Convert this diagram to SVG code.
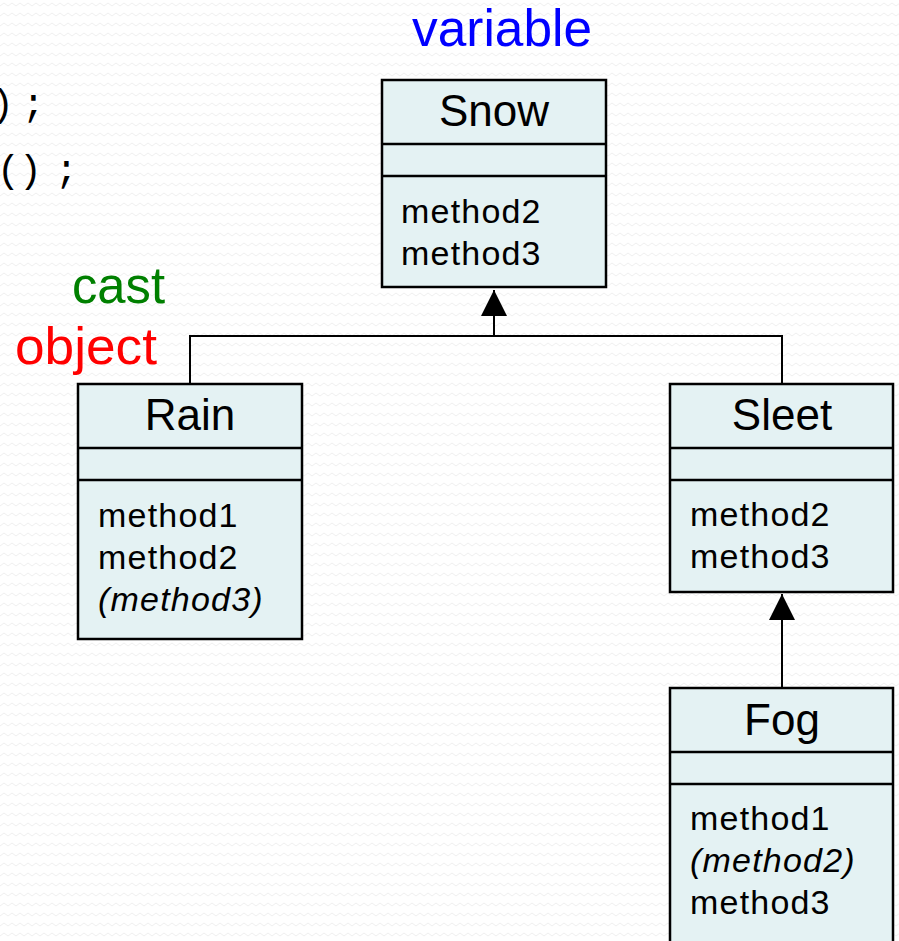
<svg xmlns="http://www.w3.org/2000/svg" width="899" height="941" viewBox="0 0 899 941">
  <style>
    .box { fill: #E4F2F3; stroke: #000; stroke-width: 2.5; }
    .div { stroke: #000; stroke-width: 2.5; }
    .title { font-family: "Liberation Sans", Arial, sans-serif; font-size: 44px; fill: #000; text-anchor: middle; }
    .m { font-family: "Liberation Sans", Arial, sans-serif; font-size: 34px; letter-spacing: 1.2px; fill: #000; }
    .it { font-style: italic; }
    .lbl { font-family: "Liberation Sans", Arial, sans-serif; font-size: 52px; }
    .code { font-family: "Liberation Mono", "Courier New", monospace; font-size: 38px; fill: #000; }
    .conn { stroke: #000; stroke-width: 2; fill: none; }
  </style>
  <defs>
    <pattern id="bg" width="8" height="10" patternUnits="userSpaceOnUse">
      <path d="M0 6 L4 3 L8 6" stroke="#efefef" stroke-width="1" fill="none"/>
    </pattern>
    <marker id="tri" markerWidth="26" markerHeight="26" viewBox="0 0 26 26" refX="26" refY="13" orient="auto" markerUnits="userSpaceOnUse">
      <path d="M0 0 L26 13 L0 26 Z" fill="#000"/>
    </marker>
  </defs>
  <rect width="899" height="941" fill="#fff"/>
  <rect width="899" height="941" fill="url(#bg)"/>

  <g id="code">
    <text class="code" x="-9 22" y="116">);</text>
    <text class="code" x="-3 19 55" y="182">();</text>
  </g>

  <g id="labels">
    <text class="lbl" x="412" y="46" fill="#0000FF" textLength="180" lengthAdjust="spacingAndGlyphs">variable</text>
    <text class="lbl" x="72" y="303" fill="#008000" textLength="93" lengthAdjust="spacingAndGlyphs">cast</text>
    <text class="lbl" x="15" y="364" fill="#FF0000" textLength="142" lengthAdjust="spacingAndGlyphs">object</text>
  </g>

  <g id="connectors">
    <path class="conn" d="M494 336 L494 290" marker-end="url(#tri)"/>
    <path class="conn" d="M190 384 L190 336 L782 336 L782 384"/>
    <path class="conn" d="M782 688 L782 594" marker-end="url(#tri)"/>
  </g>

  <g id="snow">
    <rect class="box" x="382" y="80" width="224" height="207"/>
    <line class="div" x1="382" y1="144" x2="606" y2="144"/>
    <line class="div" x1="382" y1="176" x2="606" y2="176"/>
    <text class="title" x="494" y="126">Snow</text>
    <text class="m" x="401" y="223">method2</text>
    <text class="m" x="401" y="265">method3</text>
  </g>

  <g id="rain">
    <rect class="box" x="78" y="384" width="224" height="255"/>
    <line class="div" x1="78" y1="448" x2="302" y2="448"/>
    <line class="div" x1="78" y1="480" x2="302" y2="480"/>
    <text class="title" x="190" y="430">Rain</text>
    <text class="m" x="98" y="527">method1</text>
    <text class="m" x="98" y="569">method2</text>
    <text class="m it" x="98" y="611">(method3)</text>
  </g>

  <g id="sleet">
    <rect class="box" x="670" y="384" width="223" height="208"/>
    <line class="div" x1="670" y1="448" x2="893" y2="448"/>
    <line class="div" x1="670" y1="480" x2="893" y2="480"/>
    <text class="title" x="782" y="430">Sleet</text>
    <text class="m" x="690" y="526">method2</text>
    <text class="m" x="690" y="568">method3</text>
  </g>

  <g id="fog">
    <rect class="box" x="670" y="688" width="223" height="270"/>
    <line class="div" x1="670" y1="752" x2="893" y2="752"/>
    <line class="div" x1="670" y1="784" x2="893" y2="784"/>
    <text class="title" x="782" y="735">Fog</text>
    <text class="m" x="690" y="830">method1</text>
    <text class="m it" x="690" y="872">(method2)</text>
    <text class="m" x="690" y="914">method3</text>
  </g>
</svg>
